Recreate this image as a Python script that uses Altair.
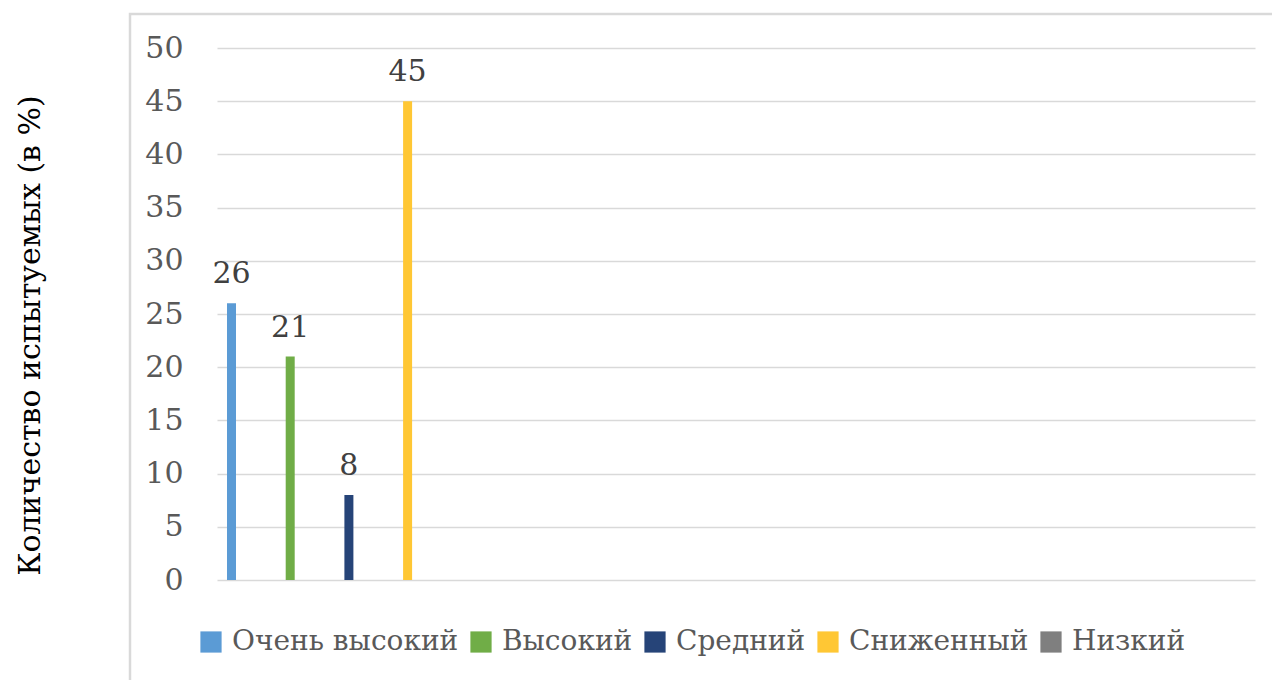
import altair as alt
import pandas as pd

series = ["Очень высокий", "Высокий", "Средний", "Сниженный", "Низкий"]
values = [26, 21, 8, 45, None]
colors = ["#5B9BD5", "#70AD47", "#264478", "#FFC734", "#7F7F7F"]
y_ticks = list(range(0, 55, 5))
y_title = "Количество испытуемых (в %)"

df = pd.DataFrame({"series": series, "value": values, "pos": list(range(len(series)))})

FONT = "DejaVu Serif"
W, H = 1038, 532

color = alt.Color(
    "series:N",
    scale=alt.Scale(domain=series, range=colors),
    legend=alt.Legend(
        title=None,
        orient="none",
        legendX=-20,
        legendY=580,
        direction="horizontal",
        columns=5,
        symbolType="square",
        symbolSize=450,
        symbolStrokeWidth=0,
        labelFont=FONT,
        labelFontSize=28,
        labelColor="#595959",
        labelOffset=7,
        columnPadding=8,
        padding=0,
        labelLimit=400,
    ),
)

x = alt.X("pos:Q", axis=None,
          scale=alt.Scale(domain=[-0.247, 17.436], nice=False, zero=False, padding=0))
y = alt.Y(
    "value:Q",
    scale=alt.Scale(domain=[0, 50], nice=False),
    axis=alt.Axis(
        values=y_ticks,
        title=y_title,
        titleFont=FONT,
        titleFontSize=30,
        titleFontWeight="normal",
        titleColor="#000000",
        titleX=-187,
        titleY=287,
        titleAngle=-90,
        titleAlign="center",
        titleBaseline="middle",
        labelFont=FONT,
        labelFontSize=30,
        labelColor="#595959",
        labelPadding=34,
        ticks=False,
        domain=False,
        grid=True,
        gridColor="#D9D9D9",
        gridWidth=1.5,
    ),
)

base = alt.Chart(df)
bars = base.mark_bar(size=9).encode(x=x, y=y, color=color)
labels = base.mark_text(
    font=FONT, fontSize=30, color="#404040", baseline="alphabetic", dy=-20
).encode(x=x, y="value:Q", text="value:Q")

frame = alt.Chart(pd.DataFrame({"a": [0]})).mark_rect(
    fillOpacity=0, stroke="#D9D9D9", strokeWidth=2.5
).encode(
    x=alt.value(-87), x2=alt.value(1272 - 217 + 10),
    y=alt.value(14 - 48), y2=alt.value(700 - 48),
)

chart = alt.layer(frame, bars, labels).properties(
    width=W, height=H,
    autosize=alt.AutoSizeParams(type="none"),
    padding={"left": 217, "top": 48, "right": 17, "bottom": 100},
).configure(
    background="white",
    view=alt.ViewConfig(stroke=None),
)

chart.save("out.html", embed_options={"renderer": "svg", "actions": False})
